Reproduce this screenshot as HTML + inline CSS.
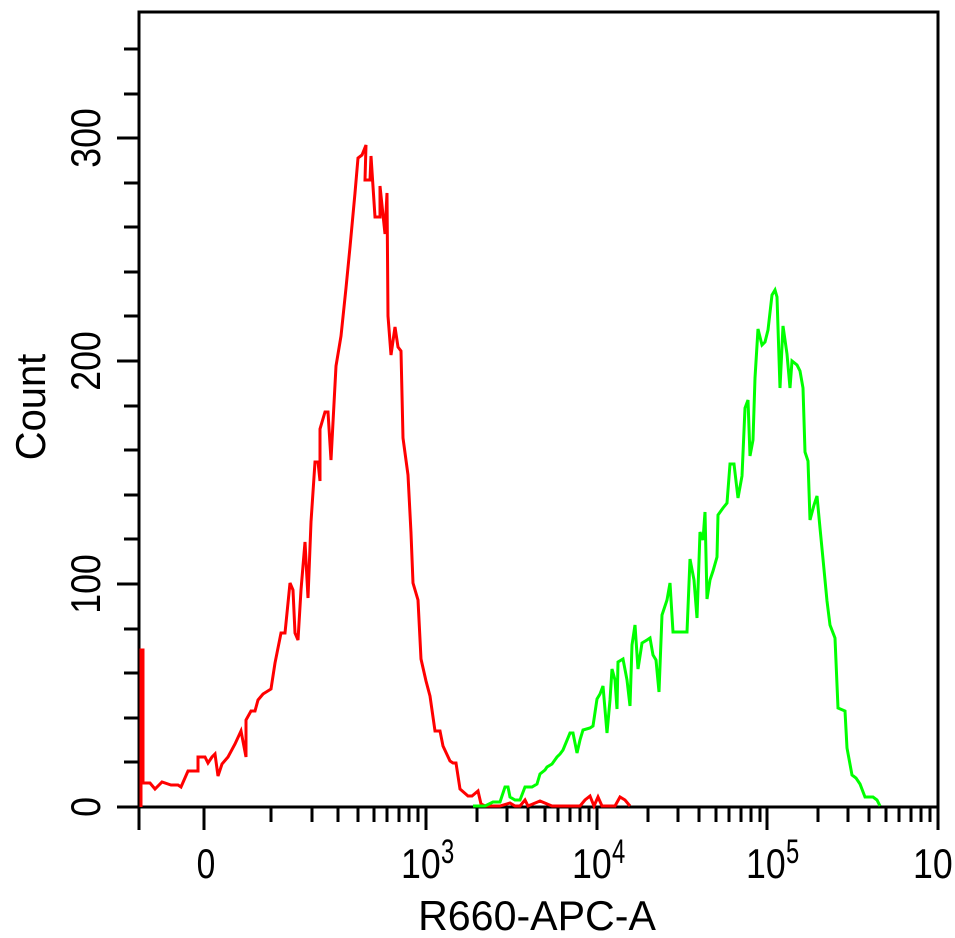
<!DOCTYPE html>
<html><head><style>
html,body{margin:0;padding:0;background:#fff;}
svg{display:block;}
text{font-family:"Liberation Sans",sans-serif;fill:#000;}
</style></head><body>
<svg width="955" height="938" viewBox="0 0 955 938" xmlns="http://www.w3.org/2000/svg">
<rect width="955" height="938" fill="#fff"/>
<rect x="139" y="12" width="799" height="795" fill="none" stroke="#000" stroke-width="3"/>
<g stroke="#000" stroke-width="3">
<line x1="117" y1="807" x2="139" y2="807"/>
<line x1="124" y1="762" x2="139" y2="762"/>
<line x1="124" y1="718" x2="139" y2="718"/>
<line x1="124" y1="673" x2="139" y2="673"/>
<line x1="124" y1="629" x2="139" y2="629"/>
<line x1="117" y1="584" x2="139" y2="584"/>
<line x1="124" y1="539" x2="139" y2="539"/>
<line x1="124" y1="495" x2="139" y2="495"/>
<line x1="124" y1="450" x2="139" y2="450"/>
<line x1="124" y1="406" x2="139" y2="406"/>
<line x1="117" y1="361" x2="139" y2="361"/>
<line x1="124" y1="316" x2="139" y2="316"/>
<line x1="124" y1="272" x2="139" y2="272"/>
<line x1="124" y1="227" x2="139" y2="227"/>
<line x1="124" y1="183" x2="139" y2="183"/>
<line x1="117" y1="138" x2="139" y2="138"/>
<line x1="124" y1="94" x2="139" y2="94"/>
<line x1="124" y1="49" x2="139" y2="49"/>
</g>
<g stroke="#000" stroke-width="3">
<line x1="139" y1="807" x2="139" y2="830"/>
<line x1="204" y1="807" x2="204" y2="830"/>
<line x1="271" y1="807" x2="271" y2="822"/>
<line x1="312" y1="807" x2="312" y2="822"/>
<line x1="338" y1="807" x2="338" y2="822"/>
<line x1="358" y1="807" x2="358" y2="822"/>
<line x1="374" y1="807" x2="374" y2="822"/>
<line x1="387" y1="807" x2="387" y2="822"/>
<line x1="399" y1="807" x2="399" y2="822"/>
<line x1="409" y1="807" x2="409" y2="822"/>
<line x1="418" y1="807" x2="418" y2="822"/>
<line x1="426" y1="807" x2="426" y2="830"/>
<line x1="477" y1="807" x2="477" y2="822"/>
<line x1="507" y1="807" x2="507" y2="822"/>
<line x1="528" y1="807" x2="528" y2="822"/>
<line x1="545" y1="807" x2="545" y2="822"/>
<line x1="558" y1="807" x2="558" y2="822"/>
<line x1="570" y1="807" x2="570" y2="822"/>
<line x1="580" y1="807" x2="580" y2="822"/>
<line x1="589" y1="807" x2="589" y2="822"/>
<line x1="597" y1="807" x2="597" y2="830"/>
<line x1="648" y1="807" x2="648" y2="822"/>
<line x1="678" y1="807" x2="678" y2="822"/>
<line x1="699" y1="807" x2="699" y2="822"/>
<line x1="716" y1="807" x2="716" y2="822"/>
<line x1="729" y1="807" x2="729" y2="822"/>
<line x1="741" y1="807" x2="741" y2="822"/>
<line x1="751" y1="807" x2="751" y2="822"/>
<line x1="760" y1="807" x2="760" y2="822"/>
<line x1="767" y1="807" x2="767" y2="830"/>
<line x1="818" y1="807" x2="818" y2="822"/>
<line x1="848" y1="807" x2="848" y2="822"/>
<line x1="869" y1="807" x2="869" y2="822"/>
<line x1="886" y1="807" x2="886" y2="822"/>
<line x1="899" y1="807" x2="899" y2="822"/>
<line x1="911" y1="807" x2="911" y2="822"/>
<line x1="921" y1="807" x2="921" y2="822"/>
<line x1="930" y1="807" x2="930" y2="822"/>
<line x1="938" y1="807" x2="938" y2="830"/>
</g>
<polyline fill="none" stroke="#f00" stroke-width="3" stroke-linejoin="miter" points="
141,807 141,650 143,650 143,783 150,783 155,789 162,782 171,785 178,785 181,787 188,771 198,771 198,757 205,757 208,763 212,757 215,754 218,776 222,764 228,757 235,744 241,731 246,757 246,720 251,711 255,711 258,700 263,694 271,689 275,663 281,633 285,633 290,583 293,590 295,633 298,640 301,590 305,542 308,598 311,522 315,462 318,462 320,481 320,429 325,412 328,412 331,460 336,366 341,336 346,288 350,247 355,193 358,158 362,155 366,145 365,180 370,180 371,156 375,217 380,217 380,186 385,234 387,193 388,316 391,355 395,327 398,347 401,351 403,438 408,475 411,533 413,583 418,600 421,659 426,681 430,696 435,731 440,731 443,746 450,761 453,763 456,763 460,789 468,796 472,796 478,791 481,804 485,806 500,806 510,803 515,806 520,806 525,800 528,806 540,801 552,806 560,806 580,806 585,800 590,796 594,806 598,797 602,806 610,806 615,806 620,797 625,800 630,806"/>
<polyline fill="none" stroke="#0f0" stroke-width="3" stroke-linejoin="miter" points="
473,806 485,806 493,802 500,802 505,787 508,787 510,797 515,800 520,800 525,787 532,787 537,784 540,774 545,770 547,767 552,764 557,757 560,754 563,750 570,733 573,733 577,753 580,740 583,730 590,728 593,726 597,699 600,694 603,686 607,733 610,700 612,669 615,680 617,709 618,662 623,659 627,680 630,706 632,645 635,625 638,669 642,643 647,640 650,638 653,655 656,660 659,692 662,615 667,600 670,583 673,632 680,632 687,632 690,559 694,580 697,618 700,532 703,540 705,512 707,599 710,580 713,571 717,557 718,515 723,508 727,503 730,464 734,464 738,498 742,476 745,408 748,400 750,456 753,440 755,378 758,329 762,345 765,342 768,330 772,295 775,290 777,297 780,388 783,326 787,354 790,388 792,361 797,365 800,371 803,388 805,452 808,461 810,520 814,505 817,496 820,528 823,559 827,601 830,625 835,638 838,708 845,711 847,748 852,775 856,778 860,784 865,797 873,797 877,800 880,806"/>
<g font-size="42">
<text transform="translate(100,807) rotate(-90) scale(0.85,1)" text-anchor="middle">0</text>
<text transform="translate(100,584) rotate(-90) scale(0.85,1)" text-anchor="middle">100</text>
<text transform="translate(100,361) rotate(-90) scale(0.85,1)" text-anchor="middle">200</text>
<text transform="translate(100,138) rotate(-90) scale(0.85,1)" text-anchor="middle">300</text>
<text transform="translate(45,407) rotate(-90) scale(0.95,1)" text-anchor="middle">Count</text>
</g>
<g font-size="42">
<text transform="translate(206,878) scale(0.8,1)" text-anchor="middle">0</text>
<text transform="translate(401,878) scale(0.85,1)">10</text>
<text transform="translate(441,863) scale(0.7,1)" font-size="34">3</text>
<text transform="translate(572,878) scale(0.85,1)">10</text>
<text transform="translate(612,863) scale(0.7,1)" font-size="34">4</text>
<text transform="translate(746,878) scale(0.85,1)">10</text>
<text transform="translate(786,863) scale(0.7,1)" font-size="34">5</text>
<text transform="translate(913,878) scale(0.85,1)">10</text>
<text transform="translate(537,930) scale(0.98,1)" text-anchor="middle">R660-APC-A</text>
</g>
</svg>
</body></html>
